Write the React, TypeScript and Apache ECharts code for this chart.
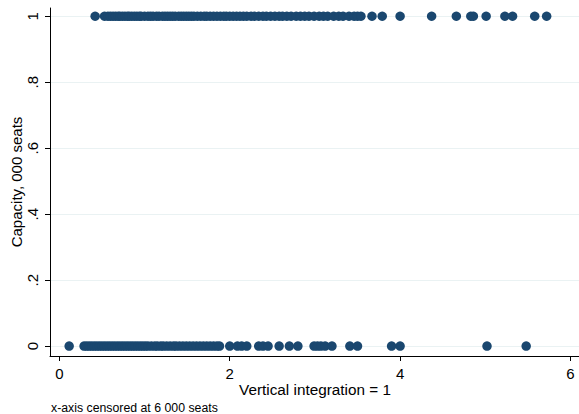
import React, { useEffect, useRef } from "react";
import * as echarts from "echarts";

// Vertical integration values (x) for plants with capacity indicator = 1
const integrationCap1: number[] = [
  0.42,
  0.53, 0.57, 0.6, 0.63, 0.66, 0.69, 0.71, 0.74, 0.77, 0.8, 0.82, 0.85, 0.88, 0.91, 0.94, 0.96,
  1.0, 1.04, 1.07, 1.1, 1.14, 1.17, 1.21, 1.24, 1.27, 1.3, 1.33, 1.36, 1.4, 1.43, 1.46, 1.49,
  1.52, 1.55, 1.58, 1.62, 1.66, 1.7, 1.73, 1.77, 1.81, 1.85, 1.89, 1.93, 1.96, 2.0, 2.04, 2.08,
  2.12, 2.16, 2.2, 2.25, 2.29, 2.34, 2.39, 2.43, 2.48, 2.53, 2.58, 2.62, 2.67, 2.72, 2.78, 2.83,
  2.88, 2.93, 2.99, 3.05, 3.1, 3.15, 3.22, 3.28, 3.33, 3.4, 3.46, 3.5, 3.54,
  3.67, 3.79, 4.0, 4.37, 4.66, 4.83, 4.86, 5.01, 5.23, 5.32, 5.58, 5.72,
];

// Vertical integration values (x) for plants with capacity indicator = 0
const integrationCap0: number[] = [
  0.115,
  0.29, 0.32, 0.35, 0.38, 0.41, 0.44, 0.47, 0.5, 0.53, 0.56, 0.59, 0.62, 0.65, 0.68, 0.71, 0.74,
  0.77, 0.8, 0.83, 0.86, 0.89, 0.92, 0.95, 0.98, 1.01, 1.04, 1.08, 1.12, 1.15, 1.19, 1.22, 1.26,
  1.3, 1.34, 1.37, 1.41, 1.45, 1.49, 1.53, 1.57, 1.61, 1.65, 1.69, 1.73, 1.77, 1.81, 1.85, 1.88,
  2.0, 2.09, 2.14, 2.2, 2.34, 2.39, 2.45, 2.58, 2.7, 2.8, 2.99, 3.03, 3.07, 3.12, 3.2, 3.41,
  3.5, 3.9, 4.0, 5.02, 5.48,
];

const capacityHigh = 1;
const capacityLow = 0;

const xTicks: number[] = [0, 2, 4, 6];
const xTickLabels: string[] = ["0", "2", "4", "6"];
const yTicks: number[] = [0, 0.2, 0.4, 0.6, 0.8, 1];
const yTickLabels: string[] = ["0", ".2", ".4", ".6", ".8", "1"];

const xTitle = "Vertical integration = 1";
const yTitle = "Capacity, 000 seats";
const note = "x-axis censored at 6 000 seats";

const FONT = "'Liberation Sans', Arial, Helvetica, sans-serif";
const NAVY = "#1a476f";

export default function App() {
  const ref = useRef<HTMLDivElement>(null);

  useEffect(() => {
    if (!ref.current) return;
    const chart = echarts.init(ref.current, undefined, { renderer: "svg" });

    const points: number[][] = [
      ...integrationCap1.map((x) => [x, capacityHigh]),
      ...integrationCap0.map((x) => [x, capacityLow]),
    ];

    chart.setOption({
      animation: false,
      backgroundColor: "#ffffff",
      grid: { left: 50, right: 0, top: 8, bottom: 58, containLabel: false },
      xAxis: {
        type: "value",
        min: -0.11,
        max: 6.1,
        axisLine: { show: true, onZero: false, lineStyle: { color: "#000", width: 1 } },
        axisTick: {
          show: true,
          customValues: xTicks,
          length: 5,
          lineStyle: { color: "#000", width: 1 },
        },
        axisLabel: {
          customValues: xTicks,
          formatter: (v: number) => xTickLabels[xTicks.indexOf(v)] ?? String(v),
          color: "#000",
          fontFamily: FONT,
          fontSize: 15,
          margin: 10,
        },
        splitLine: { show: false },
      },
      yAxis: {
        type: "value",
        min: -0.03,
        max: 1.025,
        axisLine: { show: true, onZero: false, lineStyle: { color: "#000", width: 1 } },
        axisTick: {
          show: true,
          customValues: yTicks,
          length: 5,
          lineStyle: { color: "#000", width: 1 },
        },
        axisLabel: {
          customValues: yTicks,
          formatter: (v: number) => {
            const i = yTicks.findIndex((t) => Math.abs(t - v) < 1e-9);
            return i >= 0 ? yTickLabels[i] : String(v);
          },
          rotate: 90,
          color: "#000",
          fontFamily: FONT,
          fontSize: 15,
          margin: 10,
        },
        splitLine: { show: true, lineStyle: { color: "#eaf2f3", width: 1 } },
      },
      graphic: [
        {
          type: "text",
          x: 315,
          y: 389,
          style: {
            text: xTitle,
            fill: "#000",
            font: `15.3px ${FONT}`,
            textAlign: "center",
            textVerticalAlign: "middle",
          },
        },
        {
          type: "text",
          x: 16,
          y: 182,
          rotation: Math.PI / 2,
          style: {
            text: yTitle,
            fill: "#000",
            font: `15px ${FONT}`,
            textAlign: "center",
            textVerticalAlign: "middle",
          },
        },
        {
          type: "text",
          x: 51,
          y: 408,
          style: {
            text: note,
            fill: "#000",
            font: `12.3px ${FONT}`,
            textAlign: "left",
            textVerticalAlign: "middle",
          },
        },
      ],
      series: [
        {
          type: "scatter",
          data: points,
          symbol: "circle",
          symbolSize: 9.5,
          itemStyle: { color: NAVY, opacity: 1 },
          clip: false,
        },
      ],
    });

    return () => chart.dispose();
  }, []);

  return (
    <div
      ref={ref}
      style={{ position: "fixed", left: 0, top: 0, width: 579, height: 414, background: "#fff" }}
    />
  );
}
